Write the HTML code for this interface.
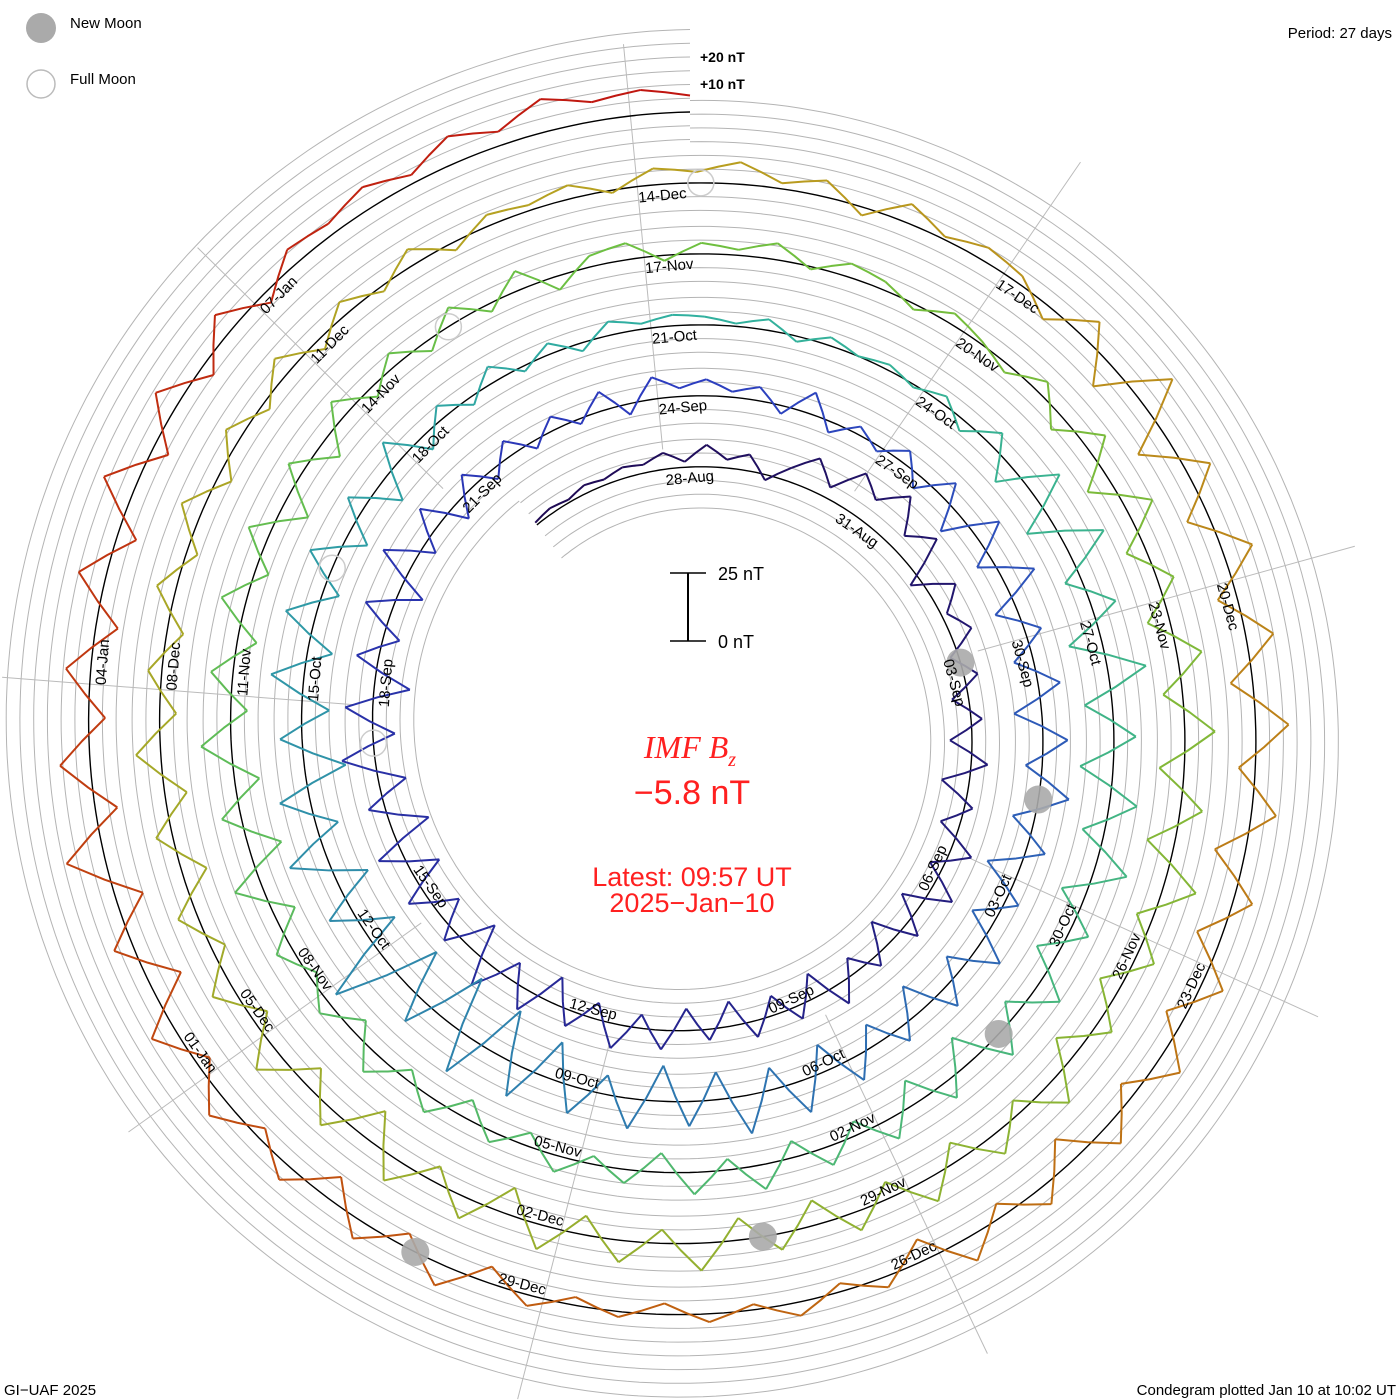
<!DOCTYPE html>
<html><head><meta charset="utf-8"><style>
html,body{margin:0;padding:0;background:#fff;}
svg{display:block;font-family:"Liberation Sans",sans-serif;}
</style></head><body>
<svg id="chart" width="1400" height="1400" viewBox="0 0 1400 1400">
<g id="grid"></g>
<g id="spokes"></g>
<g id="zero"></g>
<g id="series"></g>
<g id="moons"></g>
<g id="labels"></g>

<g>
<circle cx="41" cy="28" r="15" fill="#aaa"/>
<text x="70" y="28" font-size="15">New Moon</text>
<circle cx="41" cy="84" r="14" fill="none" stroke="#bbb" stroke-width="1.5"/>
<text x="70" y="84" font-size="15">Full Moon</text>
</g>
<text x="1392" y="38" font-size="15" text-anchor="end">Period: 27 days</text>
<g>
<text x="700" y="62" font-size="14" font-weight="bold">+20 nT</text>
<text x="700" y="89" font-size="14" font-weight="bold">+10 nT</text>
</g>
<g>
<line x1="688" y1="573" x2="688" y2="641" stroke="#000" stroke-width="2"/>
<line x1="670" y1="573" x2="706" y2="573" stroke="#000" stroke-width="1.5"/>
<line x1="670" y1="641" x2="706" y2="641" stroke="#000" stroke-width="1.5"/>
<text x="718" y="580" font-size="18">25 nT</text>
<text x="718" y="648" font-size="18">0 nT</text>
</g>
<g fill="#ff2020" text-anchor="middle">
<text x="690" y="758" font-size="32" font-style="italic" font-family="Liberation Serif,serif">IMF B<tspan font-size="20" dy="8">z</tspan></text>
<text x="692" y="804" font-size="34">−5.8 nT</text>
<text x="692" y="886" font-size="27">Latest: 09:57 UT</text>
<text x="692" y="912" font-size="27">2025−Jan−10</text>
</g>
<text x="4" y="1395" font-size="15">GI−UAF 2025</text>
<text x="1396" y="1395" font-size="15" text-anchor="end">Condegram plotted Jan 10 at 10:02 UT</text>
</svg>
<script>
// Bz values (nT), 8-hourly from ~Aug 25 16:00 to Jan 10 09:57
const bzValues = [
1,2,1,3,2,4,3,6,2,
8,3,6,-2,5,12,4,15,9,
18,6,14,-4,10,2,8,-3,5,
-6,4,-8,6,-10,3,-7,8,-5,
9,-8,6,-10,4,-6,8,-9,5,
-7,6,-9,4,-8,7,-5,9,-6,
6,-10,8,-7,10,-12,5,-9,7,
-11,9,-14,6,-10,12,-8,10,-13,
8,-6,10,-9,12,-5,9,-7,6,
-4,6,-3,5,-2,7,-4,8,3,
6,2,5,-3,8,-4,3,-2,5,
-5,7,-9,10,-6,12,-8,6,-7,
8,-10,9,-6,11,-8,7,-12,5,
-9,10,-7,8,-11,6,-8,9,-10,
12,-8,14,-10,9,-13,11,-7,10,
-14,12,-18,15,-20,10,-16,22,-12,
9,-12,14,-8,11,-15,8,-10,12,
-9,11,-6,10,-8,7,-10,9,-6,
5,-3,6,-2,4,-3,5,2,4,
3,1,4,-2,3,0,2,-1,3,
-4,6,-8,12,-10,15,-6,9,-12,
14,-10,8,-12,10,-8,12,-9,7,
-8,10,-6,9,-11,7,-9,8,-5,
7,-6,9,-4,8,-7,5,-3,6,
-5,4,-7,6,-4,8,-6,5,-3,
6,-8,10,-12,7,-9,11,-6,8,
-7,9,-5,8,-10,6,-8,7,-4,
5,-4,6,-3,7,-5,4,6,-2,
4,2,6,-1,5,3,-2,4,1,
-3,5,-6,8,-9,10,-7,6,-8,
9,-7,11,-9,8,-10,12,-6,7,
-8,6,-9,10,-5,8,-7,9,-6,
7,-9,6,-8,10,-5,8,-7,9,
-10,8,-6,9,-12,7,-8,10,-6,
8,-5,7,-9,6,-8,9,-6,5,
-6,7,-4,8,-5,6,-3,7,-4,
5,-2,6,-3,4,2,5,-1,6,
4,8,2,6,-3,7,1,5,3,
-5,8,-10,14,-12,9,-8,11,-7,
10,-8,12,-6,9,-11,7,-9,8,
-7,9,-6,8,-10,7,-5,9,-8,
4,-3,5,-2,3,-4,2,-3,4,
-6,8,-5,7,-9,6,-4,8,-5,
9,-12,7,-10,14,-8,11,-6,9,
-8,10,-7,12,-6,9,-5,8,-4,
6,4,8,3,10,5,12,7,9,6
];
// days since Aug 28 00:00
const startDay = -2.33;
const endDay = 135.415;
const labelDays = [0,3,6,9,12,15,18,21,24,27,30,33,36,39,42,45,48,51,54,57,60,63,66,69,72,75,78,81,84,87,90,93,96,99,102,105,108,111,114,117,120,123,126,129,132];
const labelTexts = ["28-Aug","31-Aug","03-Sep","06-Sep","09-Sep","12-Sep","15-Sep","18-Sep","21-Sep","24-Sep","27-Sep","30-Sep","03-Oct","06-Oct","09-Oct","12-Oct","15-Oct","18-Oct","21-Oct","24-Oct","27-Oct","30-Oct","02-Nov","05-Nov","08-Nov","11-Nov","14-Nov","17-Nov","20-Nov","23-Nov","26-Nov","29-Nov","02-Dec","05-Dec","08-Dec","11-Dec","14-Dec","17-Dec","20-Dec","23-Dec","26-Dec","29-Dec","01-Jan","04-Jan","07-Jan"];
const newMoonDays = [6.1, 35.0, 64.5, 94.3, 124.0];
const fullMoonDays = [20.5, 49.5, 79.1, 108.5];

const NS='http://www.w3.org/2000/svg';
const cx=690, cy=731, rEnd=619, turnPx=71, period=27, pxPerNT=2.75;
function ang(t){return (t-endDay)/period*2*Math.PI;}
function rad(t){return rEnd - turnPx*(endDay-t)/period;}
function pt(t,off){const a=ang(t), r=rad(t)+off; return [cx+r*Math.sin(a), cy-r*Math.cos(a)];}
function mk(tag,attrs,parent){const e=document.createElementNS(NS,tag);for(const k in attrs)e.setAttribute(k,attrs[k]);parent.appendChild(e);return e;}
function spiralPath(t0,t1,off){let d='';const n=Math.ceil((t1-t0)*12);for(let i=0;i<=n;i++){const p=pt(t0+(t1-t0)*i/n,off);d+=(i?'L':'M')+p[0].toFixed(1)+' '+p[1].toFixed(1);}return d;}

const grid=document.getElementById('grid');
for(let k=-2;k<=2;k++){if(k===0)continue;
 const e=mk('path',{d:spiralPath(startDay,endDay,k*13.75),fill:'none',stroke:'#b4b4b4','stroke-width':1},grid);
 
 }
for(const k of [-3]){const e=mk('path',{d:spiralPath(startDay,startDay+27,k*13.75),fill:'none',stroke:'#b4b4b4','stroke-width':1},grid);
 
 }
for(const k of [3,4,5,6]){const e=mk('path',{d:spiralPath(endDay-27,endDay,k*13.75),fill:'none',stroke:'#b4b4b4','stroke-width':1},grid);
 
 }

const spokes=document.getElementById('spokes');
for(let t=0;t<27;t+=3){const a=ang(t);const r0=rad(t)+20;
 const e=mk('line',{x1:cx+r0*Math.sin(a),y1:cy-r0*Math.cos(a),x2:cx+690*Math.sin(a),y2:cy-690*Math.cos(a),stroke:'#bbb','stroke-width':1},spokes);
 
 }

const z=mk('path',{d:spiralPath(startDay,endDay,0),fill:'none',stroke:'#000','stroke-width':1.4},document.getElementById('zero'));



const stopsT=[-3,27,54,81,108,122,136];
const stopsC=[[30,8,80],[44,60,192],[48,176,160],[110,192,64],[184,160,32],[192,96,16],[192,16,16]];
function colorAt(t){for(let i=0;i<stopsT.length-1;i++){if(t<=stopsT[i+1]){const f=Math.max(0,(t-stopsT[i])/(stopsT[i+1]-stopsT[i]));const c=stopsC[i].map((v,j)=>Math.round(v+(stopsC[i+1][j]-v)*f));return 'rgb('+c.join(',')+')';}}return 'rgb(192,16,16)';}
const series=document.getElementById('series');
const step=(endDay-startDay)/(bzValues.length-1);
for(let i=0;i<bzValues.length-1;i++){
 const t0=startDay+i*step,t1=t0+step;
 const p0=pt(t0,bzValues[i]*pxPerNT),pm=pt(t0+step/2,(bzValues[i]+bzValues[i+1])/2*pxPerNT),p1=pt(t1,bzValues[i+1]*pxPerNT);
 const e=mk('polyline',{points:p0.join(',')+' '+pm.join(',')+' '+p1.join(','),fill:'none',stroke:colorAt(t0),'stroke-width':2,'stroke-linejoin':'round'},series);
 
 }

const moons=document.getElementById('moons');
newMoonDays.forEach(t=>{const p=pt(t,0);const e=mk('circle',{cx:p[0],cy:p[1],r:14,fill:'#aaa','fill-opacity':0.9},moons);
 
 });
fullMoonDays.forEach(t=>{const p=pt(t,0);const e=mk('circle',{cx:p[0],cy:p[1],r:13,fill:'none',stroke:'#ccc','stroke-width':1.5},moons);
 
 });

const labels=document.getElementById('labels');
labelDays.forEach((t,i)=>{
 const a=ang(t);let deg=((a*180/Math.PI)%360+360)%360;
 const bottom=deg>95&&deg<265;
 const p=pt(t,bottom?-4:-16);
 const rot=bottom?deg-180:deg;
 const e=mk('text',{x:p[0].toFixed(1),y:p[1].toFixed(1),'font-size':15,fill:'#000','text-anchor':bottom?'end':'start',transform:'rotate('+rot.toFixed(1)+' '+p[0].toFixed(1)+' '+p[1].toFixed(1)+')'},labels);
 e.textContent=labelTexts[i];
 
 });
</script>
</body></html>
